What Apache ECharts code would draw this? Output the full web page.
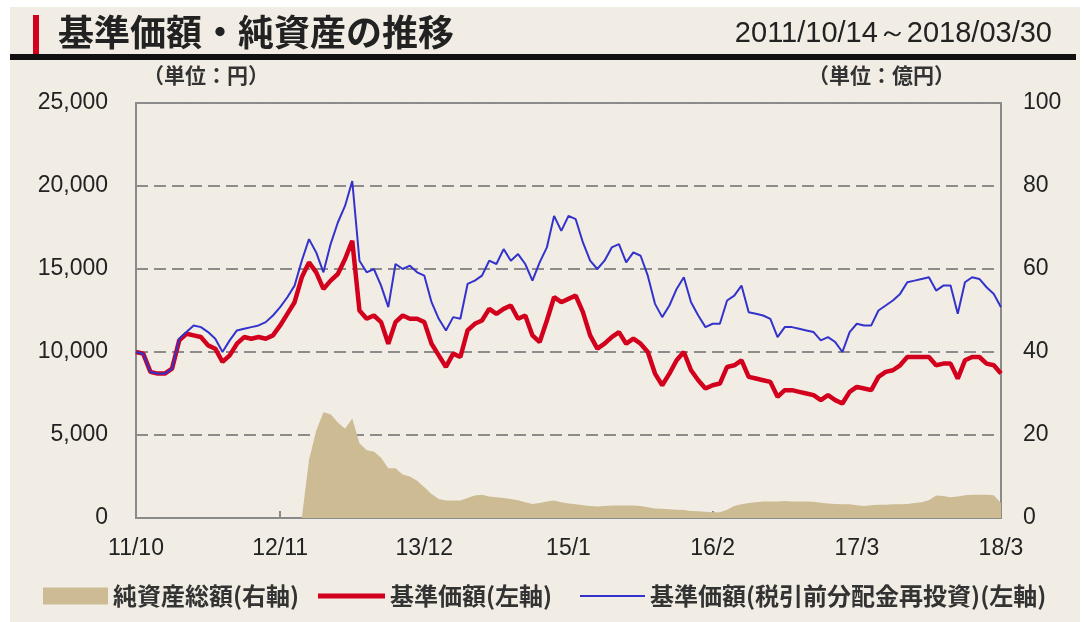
<!DOCTYPE html>
<html lang="ja">
<head>
<meta charset="UTF-8">
<title>基準価額・純資産の推移</title>
<script src="https://cdn.jsdelivr.net/npm/echarts@6/dist/echarts.min.js"></script>
<style>
  body { margin: 0; background: #fff; }
  #main { width: 1084px; height: 622px; }
</style>
</head>
<body>
<div id="main"></div>
<script type="text/javascript">
// x軸の目盛りラベル（20点ごと）
var tickLabels = ["11/10", "12/11", "13/12", "15/1", "16/2", "17/3", "18/3"];

// 基準価額（円）
var navValues = [
  10000, 9900, 8800, 8700, 8700, 9000, 10700, 11100, 11000, 10900,
  10400, 10200, 9400, 9800, 10500, 10900, 10800, 10900, 10800, 11000,
  11600, 12300, 13000, 14500, 15400, 14800, 13800, 14300, 14700, 15600,
  16700, 12500, 12000, 12200, 11800, 10500, 11800, 12200, 12000, 12000,
  11800, 10500, 9800, 9100, 9900, 9700, 11300, 11700, 11900, 12600,
  12300, 12600, 12800, 12000, 12200, 11000, 10600, 11900, 13300, 13000,
  13200, 13400, 12400, 11000, 10200, 10500, 10900, 11200, 10500, 10800,
  10500, 10000, 8700, 8000, 8700, 9500, 10000, 8900, 8300, 7800,
  8000, 8100, 9100, 9200, 9500, 8500, 8400, 8300, 8200, 7300,
  7700, 7700, 7600, 7500, 7400, 7100, 7400, 7100, 6900, 7600,
  7900, 7800, 7700, 8500, 8800, 8900, 9200, 9700, 9700, 9700,
  9700, 9200, 9300, 9300, 8400, 9500, 9700, 9700, 9300, 9200,
  8700
];

// 基準価額（税引前分配金再投資）（円）
var navReinvest = [
  10000, 9900, 8800, 8700, 8700, 9000, 10800, 11200, 11600, 11500,
  11200, 10800, 10000, 10700, 11300, 11400, 11500, 11600, 11800, 12200,
  12700, 13300, 14000, 15500, 16800, 16000, 14800, 16500, 17800, 18800,
  20300, 15500, 14800, 15000, 14000, 12700, 15300, 15000, 15200, 14800,
  14600, 13000, 12000, 11300, 12100, 12000, 14100, 14300, 14600, 15500,
  15300, 16200, 15500, 15900, 15300, 14300, 15400, 16300, 18200, 17300,
  18200, 18000, 16600, 15500, 15000, 15500, 16300, 16500, 15400, 16000,
  15800, 14600, 12900, 12100, 12800, 13800, 14500, 13000, 12200, 11500,
  11700, 11700, 13100, 13400, 14000, 12400, 12300, 12200, 12000, 10900,
  11500, 11500, 11400, 11300, 11200, 10700, 10900, 10600, 10000, 11200,
  11700, 11600, 11600, 12500, 12800, 13100, 13500, 14200, 14300, 14400,
  14500, 13700, 14000, 14000, 12300, 14200, 14500, 14400, 13900, 13500,
  12700
];

// 純資産総額（億円）
var netAssets = [
  0, 0, 0, 0, 0, 0, 0, 0, 0, 0,
  0, 0, 0, 0, 0, 0, 0, 0, 0, 0,
  0, 0, 0, 0, 14, 21, 25.5, 25, 23, 21.5,
  24, 18, 16.3, 16, 14.5, 12, 12, 10.5, 10, 9,
  7.4, 5.8, 4.6, 4.2, 4.2, 4.2, 4.8, 5.4, 5.6, 5.2,
  5, 4.8, 4.6, 4.3, 3.8, 3.4, 3.6, 4, 4.2, 3.8,
  3.5, 3.3, 3.1, 2.9, 2.8, 2.9, 3, 3, 3, 3,
  2.9, 2.6, 2.3, 2.2, 2.1, 2, 1.9, 1.7, 1.6, 1.5,
  1.4, 1.4, 2, 2.9, 3.3, 3.6, 3.8, 4, 4, 4,
  4.1, 4, 4, 4, 3.9, 3.7, 3.5, 3.4, 3.3, 3.3,
  3.1, 2.9, 3.1, 3.2, 3.2, 3.3, 3.3, 3.4, 3.6, 3.8,
  4.3, 5.4, 5.3, 5, 5.2, 5.5, 5.6, 5.6, 5.6, 5.5,
  3.6
];

var categories = navValues.map(function (v, i) { return i; });

var numFont = "'Liberation Sans', Arial, sans-serif";
var jpFont = "'Noto Sans CJK JP', sans-serif";
var bgColor = "#f1ede5";
var legendText = { fontFamily: jpFont, fontSize: 24, fontWeight: "bold", color: "#333" };

function showTick(index) { return index % 20 === 0; }

var myChart = echarts.init(document.getElementById("main"));
var option = {
  backgroundColor: "#ffffff",
  animation: false,
  graphic: [
    { type: "rect", z: -10, shape: { x: 10, y: 7, width: 1070, height: 615 }, style: { fill: bgColor } },
    { type: "rect", shape: { x: 10, y: 54, width: 1066, height: 6 }, style: { fill: "#111" } },
    { type: "rect", shape: { x: 33, y: 15, width: 6, height: 39 }, style: { fill: "#d2001d" } },
    {
      type: "text", left: 58, top: 14,
      style: { text: "基準価額・純資産の推移", font: "bold 36px " + jpFont, fill: "#222" }
    },
    {
      type: "text", right: 32, top: 19,
      style: { text: "2011/10/14～2018/03/30", font: "29px " + numFont, fill: "#222" }
    },
    {
      type: "text", left: 143, top: 65,
      style: { text: "（単位：円）", font: "bold 21px " + jpFont, fill: "#333" }
    },
    {
      type: "text", left: 808, top: 65,
      style: { text: "（単位：億円）", font: "bold 21px " + jpFont, fill: "#333" }
    }
  ],
  legend: [
    {
      left: 43, top: 584, padding: 0, icon: "rect", itemWidth: 65, itemHeight: 17,
      textStyle: legendText, data: ["純資産総額(右軸)"]
    },
    {
      left: 318, top: 584, padding: 0, icon: "rect", itemWidth: 67, itemHeight: 5,
      textStyle: legendText, data: ["基準価額(左軸)"]
    },
    {
      left: 580, top: 584, padding: 0, icon: "rect", itemWidth: 65, itemHeight: 2,
      textStyle: legendText, data: ["基準価額(税引前分配金再投資)(左軸)"]
    }
  ],
  grid: {
    left: 136, right: 83, top: 103, bottom: 104,
    show: true, borderColor: "#8a8a8a", borderWidth: 2
  },
  xAxis: {
    type: "category",
    boundaryGap: false,
    data: categories,
    axisLine: { lineStyle: { color: "#8a8a8a", width: 2 } },
    axisTick: { inside: true, length: 7, interval: showTick, lineStyle: { color: "#8a8a8a", width: 2 } },
    axisLabel: {
      interval: showTick, margin: 19,
      fontFamily: numFont, fontSize: 23, color: "#222",
      formatter: function (v) { return tickLabels[Number(v) / 20]; }
    },
    splitLine: { show: false }
  },
  yAxis: [
    {
      type: "value", min: 0, max: 25000, interval: 5000,
      axisLine: { show: false }, axisTick: { show: false },
      axisLabel: {
        margin: 28, fontFamily: numFont, fontSize: 23, color: "#222",
        formatter: function (v) { return v.toLocaleString("en-US"); }
      },
      splitLine: { lineStyle: { color: "#8c8c8c", width: 2, type: [12, 6] } }
    },
    {
      type: "value", min: 0, max: 100, interval: 20,
      axisLine: { show: false }, axisTick: { show: false },
      axisLabel: { margin: 22, fontFamily: numFont, fontSize: 23, color: "#222" },
      splitLine: { show: false }
    }
  ],
  series: [
    {
      name: "純資産総額(右軸)", type: "line", yAxisIndex: 1,
      data: netAssets, showSymbol: false, symbol: "none",
      itemStyle: { color: "#cdbb93" },
      lineStyle: { width: 0, color: "#cdbb93" },
      areaStyle: { color: "#cdbb93", opacity: 1 }
    },
    {
      name: "基準価額(左軸)", type: "line", yAxisIndex: 0,
      data: navValues, showSymbol: false, symbol: "none",
      itemStyle: { color: "#d2001d" },
      lineStyle: { width: 4.5, color: "#d2001d" }
    },
    {
      name: "基準価額(税引前分配金再投資)(左軸)", type: "line", yAxisIndex: 0,
      data: navReinvest, showSymbol: false, symbol: "none",
      itemStyle: { color: "#3333cc" },
      lineStyle: { width: 2, color: "#3333cc" }
    }
  ]
};
myChart.setOption(option);
</script>
</body>
</html>
